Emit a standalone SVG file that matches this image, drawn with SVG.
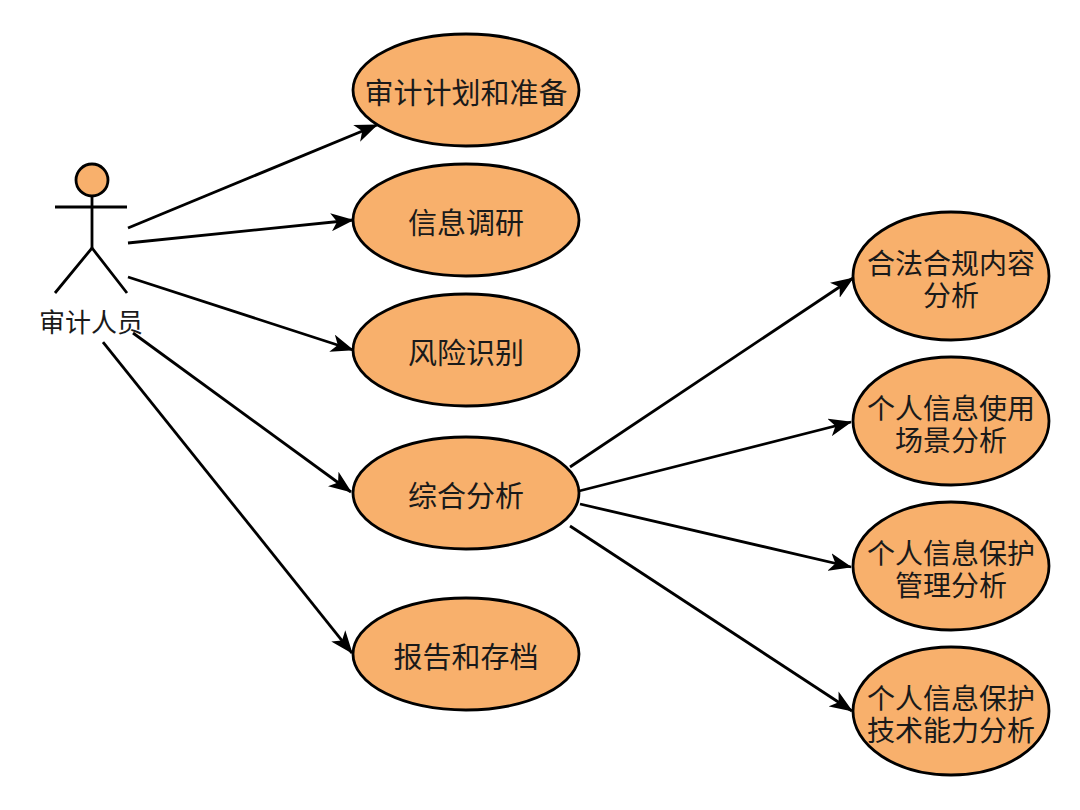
<svg xmlns="http://www.w3.org/2000/svg" width="1080" height="810" viewBox="0 0 1080 810">
<defs>
<style>
.uc{fill:#F8B06C;stroke:#000;stroke-width:2.8}
.t{font-family:"Noto Sans CJK SC","Noto Sans",sans-serif;fill:#1a1a1a;text-anchor:middle;dominant-baseline:central}
.t1{font-size:29px}
.t2{font-size:28px}
.act{fill:none;stroke:#000;stroke-width:2.8}
.e{fill:none;stroke:#000;stroke-width:2.8;marker-end:url(#arr)}
</style>
<marker id="arr" markerUnits="userSpaceOnUse" markerWidth="24" markerHeight="18" refX="22" refY="9" orient="auto">
<path d="M0,0 L23,9 L0,18 L6,9 Z" fill="#000"/>
</marker>
</defs>
<rect width="1080" height="810" fill="#fff"/>
<g id="actor">
<circle cx="92" cy="180" r="16" fill="#F8B06C" stroke="#000" stroke-width="2.8"/>
<line class="act" x1="55" y1="207" x2="127" y2="207"/>
<line class="act" x1="92" y1="196" x2="92" y2="248"/>
<polyline class="act" points="55,293 92,248 127,293"/>
<text class="t" x="91" y="320" style="font-size:26px">审计人员</text>
</g>
<g id="connectors">
<line class="e" x1="128" y1="228" x2="377" y2="125"/>
<line class="e" x1="128" y1="243" x2="353" y2="220"/>
<line class="e" x1="128" y1="277" x2="353" y2="350"/>
<line class="e" x1="133" y1="333" x2="351" y2="492"/>
<line class="e" x1="103" y1="342" x2="352" y2="653"/>
<line class="e" x1="570" y1="467" x2="853" y2="278"/>
<line class="e" x1="579" y1="491" x2="851" y2="422"/>
<line class="e" x1="580" y1="504" x2="851" y2="567"/>
<line class="e" x1="570" y1="526" x2="852" y2="711"/>
</g>
<g id="uc1"><ellipse class="uc" cx="466" cy="90" rx="113" ry="56"/><text class="t t1" x="466" y="91">审计计划和准备</text></g>
<g id="uc2"><ellipse class="uc" cx="466" cy="220" rx="113" ry="56"/><text class="t t1" x="466" y="221">信息调研</text></g>
<g id="uc3"><ellipse class="uc" cx="466" cy="350" rx="113" ry="56"/><text class="t t1" x="466" y="351">风险识别</text></g>
<g id="uc4"><ellipse class="uc" cx="466" cy="493" rx="113" ry="56"/><text class="t t1" x="466" y="494">综合分析</text></g>
<g id="uc5"><ellipse class="uc" cx="466" cy="654" rx="113" ry="56"/><text class="t t1" x="466" y="655">报告和存档</text></g>
<g id="uc6"><ellipse class="uc" cx="951" cy="276" rx="98" ry="64"/><text class="t t2" x="951" y="262"><tspan x="951" y="262">合法合规内容</tspan><tspan x="951" y="294">分析</tspan></text></g>
<g id="uc7"><ellipse class="uc" cx="951" cy="421" rx="98" ry="64"/><text class="t t2" x="951" y="407"><tspan x="951" y="407">个人信息使用</tspan><tspan x="951" y="439">场景分析</tspan></text></g>
<g id="uc8"><ellipse class="uc" cx="951" cy="566" rx="98" ry="64"/><text class="t t2" x="951" y="552"><tspan x="951" y="552">个人信息保护</tspan><tspan x="951" y="584">管理分析</tspan></text></g>
<g id="uc9"><ellipse class="uc" cx="951" cy="711" rx="98" ry="64"/><text class="t t2" x="951" y="697"><tspan x="951" y="697">个人信息保护</tspan><tspan x="951" y="729">技术能力分析</tspan></text></g>
</svg>
